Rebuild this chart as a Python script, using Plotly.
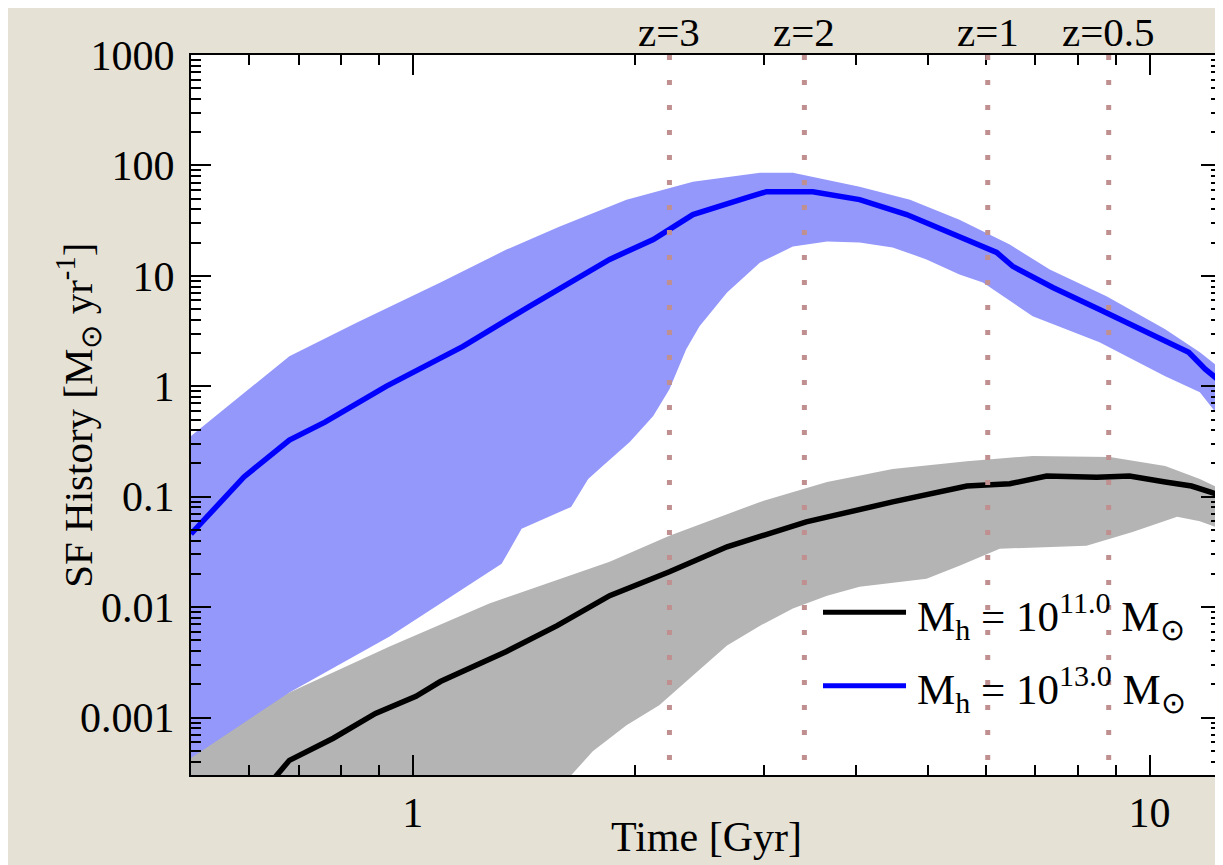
import numpy as np
import plotly.graph_objects as go

# star formation history, halo mass 10^13 (median line and band)
t_line13 = [0.50, 0.59, 0.68, 0.76, 0.92, 1.17, 1.44, 1.85, 2.12, 2.23, 2.40, 2.84, 3.02,
            3.49, 4.04, 4.68, 5.35, 6.20, 6.52, 7.39, 8.55, 10.0, 11.3, 11.9, 12.5]
sfr_line13 = [0.046, 0.151, 0.326, 0.474, 1.0, 2.3, 5.3, 14.1, 21.3, 26.2, 35.9, 51.1, 57.8,
              57.8, 49.0, 35.9, 24.7, 16.3, 12.2, 7.85, 4.97, 2.96, 2.03, 1.43, 1.09]

t_up13 = [0.50, 0.68, 0.84, 1.09, 1.34, 1.58, 1.95, 2.40, 2.96, 3.28, 4.04, 4.73, 5.52,
          6.46, 7.32, 8.74, 10.5, 11.7, 12.5]
sfr_up13 = [0.354, 1.87, 3.79, 8.71, 17.3, 27.9, 49.0, 71.2, 86.0, 86.0, 64.2, 49.0, 32.3,
            19.2, 11.4, 6.52, 3.28, 2.03, 1.43]

t_lo13 = [0.50, 0.68, 0.93, 1.17, 1.32, 1.405, 1.64, 1.73, 1.81, 1.97, 2.12, 2.23, 2.35,
          2.45, 2.67, 2.96, 3.28, 3.65, 4.04, 4.48, 4.98, 5.52, 5.94, 6.94, 8.55, 10.5,
          11.7, 12.5]
sfr_lo13 = [0.0003, 0.00169, 0.00542, 0.0147, 0.0247, 0.0512, 0.0809, 0.145, 0.190, 0.313,
            0.537, 0.94, 2.16, 3.49, 7.08, 13.2, 18.4, 20.5, 20.0, 18.1, 14.1, 10.3, 8.71,
            4.30, 2.50, 1.23, 0.885, 0.505]

# halo mass 10^11
t_line11 = [0.645, 0.68, 0.78, 0.89, 1.01, 1.09, 1.34, 1.57, 1.85, 2.23, 2.67, 3.42, 4.48,
            5.65, 6.46, 7.25, 8.48, 9.39, 10.5, 11.4, 12.1, 12.5]
sfr_line11 = [0.00027, 0.00041, 0.00065, 0.00109, 0.00156, 0.00212, 0.00397, 0.0068, 0.0127,
              0.0209, 0.0352, 0.0592, 0.0897, 0.125, 0.131, 0.154, 0.150, 0.154, 0.136,
              0.125, 0.110, 0.102]

t_up11 = [0.50, 0.68, 0.93, 1.27, 1.85, 2.23, 2.96, 3.65, 4.48, 5.65, 6.94, 8.83, 10.5,
          11.7, 12.5]
sfr_up11 = [0.00043, 0.00169, 0.0044, 0.0108, 0.0258, 0.0443, 0.0897, 0.136, 0.178, 0.210,
            0.234, 0.229, 0.190, 0.145, 0.117]

t_lo11 = [0.50, 1.0, 1.64, 1.755, 1.95, 2.16, 2.40, 2.67, 2.96, 3.28, 3.65, 4.04, 4.98,
          5.52, 6.26, 8.21, 9.48, 10.9, 11.7, 12.5]
sfr_lo11 = [0.00001, 0.00005, 0.0003, 0.000495, 0.00085, 0.00129, 0.0024, 0.00449, 0.0068,
            0.0097, 0.0127, 0.0153, 0.0181, 0.0237, 0.0338, 0.036, 0.048, 0.0657, 0.060,
            0.051]

# redshift markers
z_labels = ["z=3", "z=2", "z=1", "z=0.5"]
z_times = [2.23, 3.40, 6.03, 8.80]

legend_labels = ["M<sub>h</sub> = 10<sup>11.0</sup> M<sub>⊙</sub>",
                 "M<sub>h</sub> = 10<sup>13.0</sup> M<sub>⊙</sub>"]

FONT = "Liberation Serif, Times New Roman, serif"
BLUE_BAND = "#9498fb"
GREY_BAND = "#b4b4b4"
DOT_COLOR = "#c09090"

fig = go.Figure()

# bands (polygon = upper edge then lower edge reversed)
fig.add_trace(go.Scatter(
    x=t_up13 + t_lo13[::-1], y=sfr_up13 + sfr_lo13[::-1],
    fill="toself", fillcolor=BLUE_BAND, line=dict(width=0), mode="lines",
    hoverinfo="skip", showlegend=False))
fig.add_trace(go.Scatter(
    x=t_up11 + t_lo11[::-1], y=sfr_up11 + sfr_lo11[::-1],
    fill="toself", fillcolor=GREY_BAND, line=dict(width=0), mode="lines",
    hoverinfo="skip", showlegend=False))

fig.add_trace(go.Scatter(x=t_line13, y=sfr_line13, mode="lines",
                         line=dict(color="#0000ff", width=5.5), showlegend=False))
fig.add_trace(go.Scatter(x=t_line11, y=sfr_line11, mode="lines",
                         line=dict(color="black", width=5.5), showlegend=False))

# dotted redshift lines and labels
for t, lab in zip(z_times, z_labels):
    fig.add_shape(type="line", x0=t, x1=t, xref="x", y0=1, y1=0, yref="paper",
                  line=dict(color=DOT_COLOR, width=5, dash="5px,20px"), layer="above")
    fig.add_annotation(x=np.log10(t), xref="x", y=1, yref="paper", yanchor="bottom",
                       text=lab, showarrow=False, yshift=-2,
                       font=dict(family=FONT, size=41, color="black"))

# hand-drawn legend (long line samples)
for lab, col, ly in zip(legend_labels, ["black", "#0000ff"], [0.226, 0.124]):
    fig.add_shape(type="line", xref="paper", yref="paper", x0=0.6136, x1=0.6942,
                  y0=ly, y1=ly, line=dict(color=col, width=5), layer="above")
    fig.add_annotation(xref="paper", yref="paper", x=0.703, y=ly, xanchor="left",
                       yanchor="middle", text=lab, showarrow=False, yshift=-4,
                       font=dict(family=FONT, size=43, color="black"))

# axis titles
fig.add_annotation(xref="paper", yref="paper", x=-0.14, y=0.5, textangle=-90,
                   text="SF History [M<sub>⊙</sub> yr<sup>-1</sup>]", showarrow=False,
                   font=dict(family=FONT, size=41, color="black"))
fig.add_annotation(xref="paper", yref="paper", x=0.5, y=-0.086, yanchor="middle",
                   text="Time [Gyr]", showarrow=False,
                   font=dict(family=FONT, size=42, color="black"))

x_minor = [0.6, 0.7, 0.8, 0.9, 2, 3, 4, 5, 6, 7, 8, 9]
y_major = [0.001, 0.01, 0.1, 1, 10, 100, 1000]
y_minor = [m * 10.0 ** e for e in range(-4, 3) for m in range(2, 10)]

axis_common = dict(
    showline=True, linecolor="black", linewidth=2, mirror="ticks",
    ticks="inside", ticklen=20, tickwidth=1.5, tickcolor="black",
    showgrid=False, zeroline=False, automargin=False,
    tickfont=dict(family=FONT, size=42, color="black"),
)

fig.update_xaxes(
    type="log", range=[np.log10(0.5), np.log10(12.5)],
    tickmode="array", tickvals=[1, 10], ticktext=["1", "10"],
    minor=dict(tickmode="array", tickvals=x_minor, ticks="inside", ticklen=10,
               tickwidth=1.5, tickcolor="black", showgrid=False),
    **axis_common)

fig.update_yaxes(
    type="log", range=[-3.52, 3],
    tickmode="array", tickvals=y_major, ticktext=["0.001", "0.01", "0.1", "1", "10", "100", "1000"],
    minor=dict(tickmode="array", tickvals=y_minor, ticks="inside", ticklen=10,
               tickwidth=1.5, tickcolor="black", showgrid=False),
    ticklabelstandoff=6,
    **axis_common)

# page body has an 8px margin, so the figure is sized to fit inside the window
fig.update_layout(
    width=1215, height=857,
    margin=dict(l=183, r=2, t=47, b=90),
    paper_bgcolor="#e5e1d5", plot_bgcolor="white",
    showlegend=False,
    font=dict(family=FONT, color="black"),
)

fig.write_html("out.html")
